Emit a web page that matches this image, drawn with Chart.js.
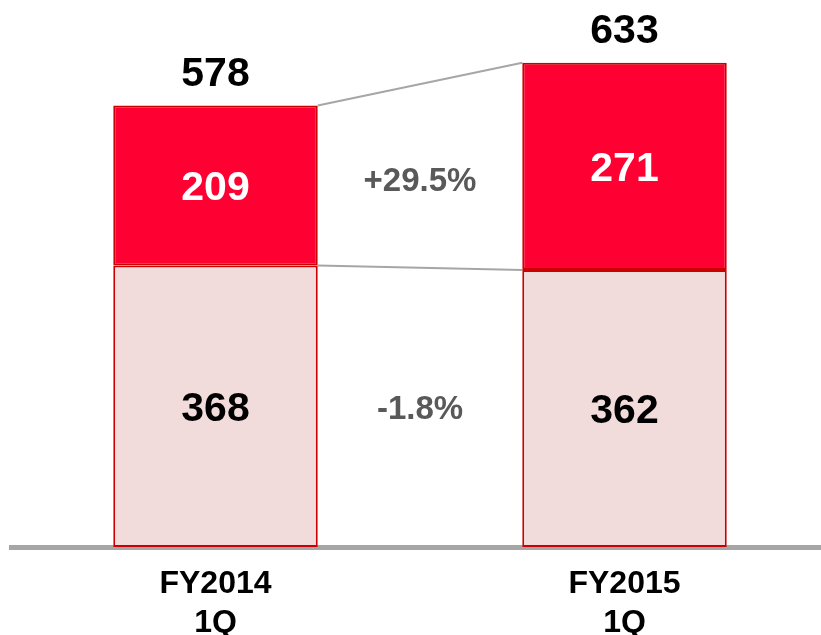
<!DOCTYPE html>
<html>
<head>
<meta charset="utf-8">
<script src="https://cdn.jsdelivr.net/npm/chart.js@4/dist/chart.umd.min.js"></script>
<style>
  html, body { margin: 0; padding: 0; background: #fff; overflow: hidden; }
  /* canvas a bit wider than the page so the baseline runs off the right edge */
  #wrap { width: 821px; height: 635px; overflow: hidden; }
</style>
</head>
<body>
<div id="wrap"><canvas id="salesChart" width="829" height="635"></canvas></div>
<script>
/* ======================
   DATA
====================== */
const periods = [["FY2014", "1Q"], ["FY2015", "1Q"]];
const baseValues = [368, 362];
const topValues = [209, 271];
const totals = [578, 633];               // as printed (rounded source figures)
const changeLabels = ["+29.5%", "-1.8%"]; // top segment, bottom segment

/* ======================
   STYLE
====================== */
const FONT = "'Liberation Sans', Arial, sans-serif";
const RED = "#ff0033";
const EDGE = "#cc0000";
const PINK = "#f2dcdb";
const GREY = "#a6a6a6";

/* ======================
   PLUGINS
====================== */
// grey connector lines between the two stacks
const connectors = {
  id: "connectors",
  beforeDatasetsDraw(chart) {
    const { ctx } = chart;
    ctx.save();
    ctx.strokeStyle = GREY;
    ctx.lineWidth = 2;
    chart.data.datasets.forEach((ds, i) => {
      const bars = chart.getDatasetMeta(i).data;
      const a = bars[0], b = bars[1];
      ctx.beginPath();
      ctx.moveTo(a.x + a.width / 2, a.y);
      ctx.lineTo(b.x - b.width / 2, b.y);
      ctx.stroke();
    });
    ctx.restore();
  }
};

// numbers inside the segments, totals on top, change % in between
const labels = {
  id: "labels",
  afterDatasetsDraw(chart) {
    const { ctx } = chart;
    ctx.save();
    ctx.textAlign = "center";
    ctx.textBaseline = "middle";

    const metas = chart.data.datasets.map((_, i) => chart.getDatasetMeta(i).data);

    chart.data.datasets.forEach((ds, i) => {
      metas[i].forEach((bar, j) => {
        const mid = (bar.y + bar.base) / 2;
        ctx.font = `bold 41px ${FONT}`;
        ctx.fillStyle = ds.labelColor;
        ctx.fillText(ds.data[j], bar.x, mid + 3);
      });
    });

    // totals
    const top = metas[metas.length - 1];
    top.forEach((bar, j) => {
      ctx.font = `bold 41px ${FONT}`;
      ctx.fillStyle = "#000";
      ctx.fillText(totals[j], bar.x, bar.y - 31);
    });

    // change between periods: index 0 = top segment, 1 = bottom segment
    const order = [1, 0];
    order.forEach((dsIdx, k) => {
      const [a, b] = metas[dsIdx];
      const x = (a.x + b.x) / 2;
      const y = ((a.y + a.base) / 2 + (b.y + b.base) / 2) / 2;
      ctx.font = `bold 33px ${FONT}`;
      ctx.fillStyle = "#595959";
      ctx.fillText(changeLabels[k], x, y + (k === 0 ? 6 : 3));
    });

    ctx.restore();
  }
};

/* ======================
   CHART
====================== */
new Chart(document.getElementById("salesChart"), {
  type: "bar",
  data: {
    labels: periods,
    datasets: [
      {
        data: baseValues,
        backgroundColor: PINK,
        borderColor: EDGE,
        borderWidth: 2,
        borderSkipped: false,
        labelColor: "#000"
      },
      {
        data: topValues,
        backgroundColor: RED,
        borderColor: EDGE,
        borderWidth: 2,
        borderSkipped: false,
        labelColor: "#fff"
      }
    ]
  },
  options: {
    responsive: false,
    animation: false,
    devicePixelRatio: 1,
    layout: { padding: { left: 11, right: 0, top: 0, bottom: 0 } },
    datasets: { bar: { categoryPercentage: 1, barPercentage: 0.5 } },
    plugins: {
      legend: { display: false },
      tooltip: { enabled: false }
    },
    scales: {
      x: {
        stacked: true,
        z: 1,
        grid: { display: false, drawTicks: false },
        border: { display: true, color: GREY, width: 5 },
        ticks: {
          color: "#000",
          padding: 18,
          font: { family: FONT, size: 32, weight: "bold", lineHeight: 1.22 }
        },
        afterFit(scale) { scale.height = 88; }
      },
      y: {
        stacked: true,
        display: false,
        min: 0,
        max: 715
      }
    }
  },
  plugins: [connectors, labels]
});
</script>
</body>
</html>
